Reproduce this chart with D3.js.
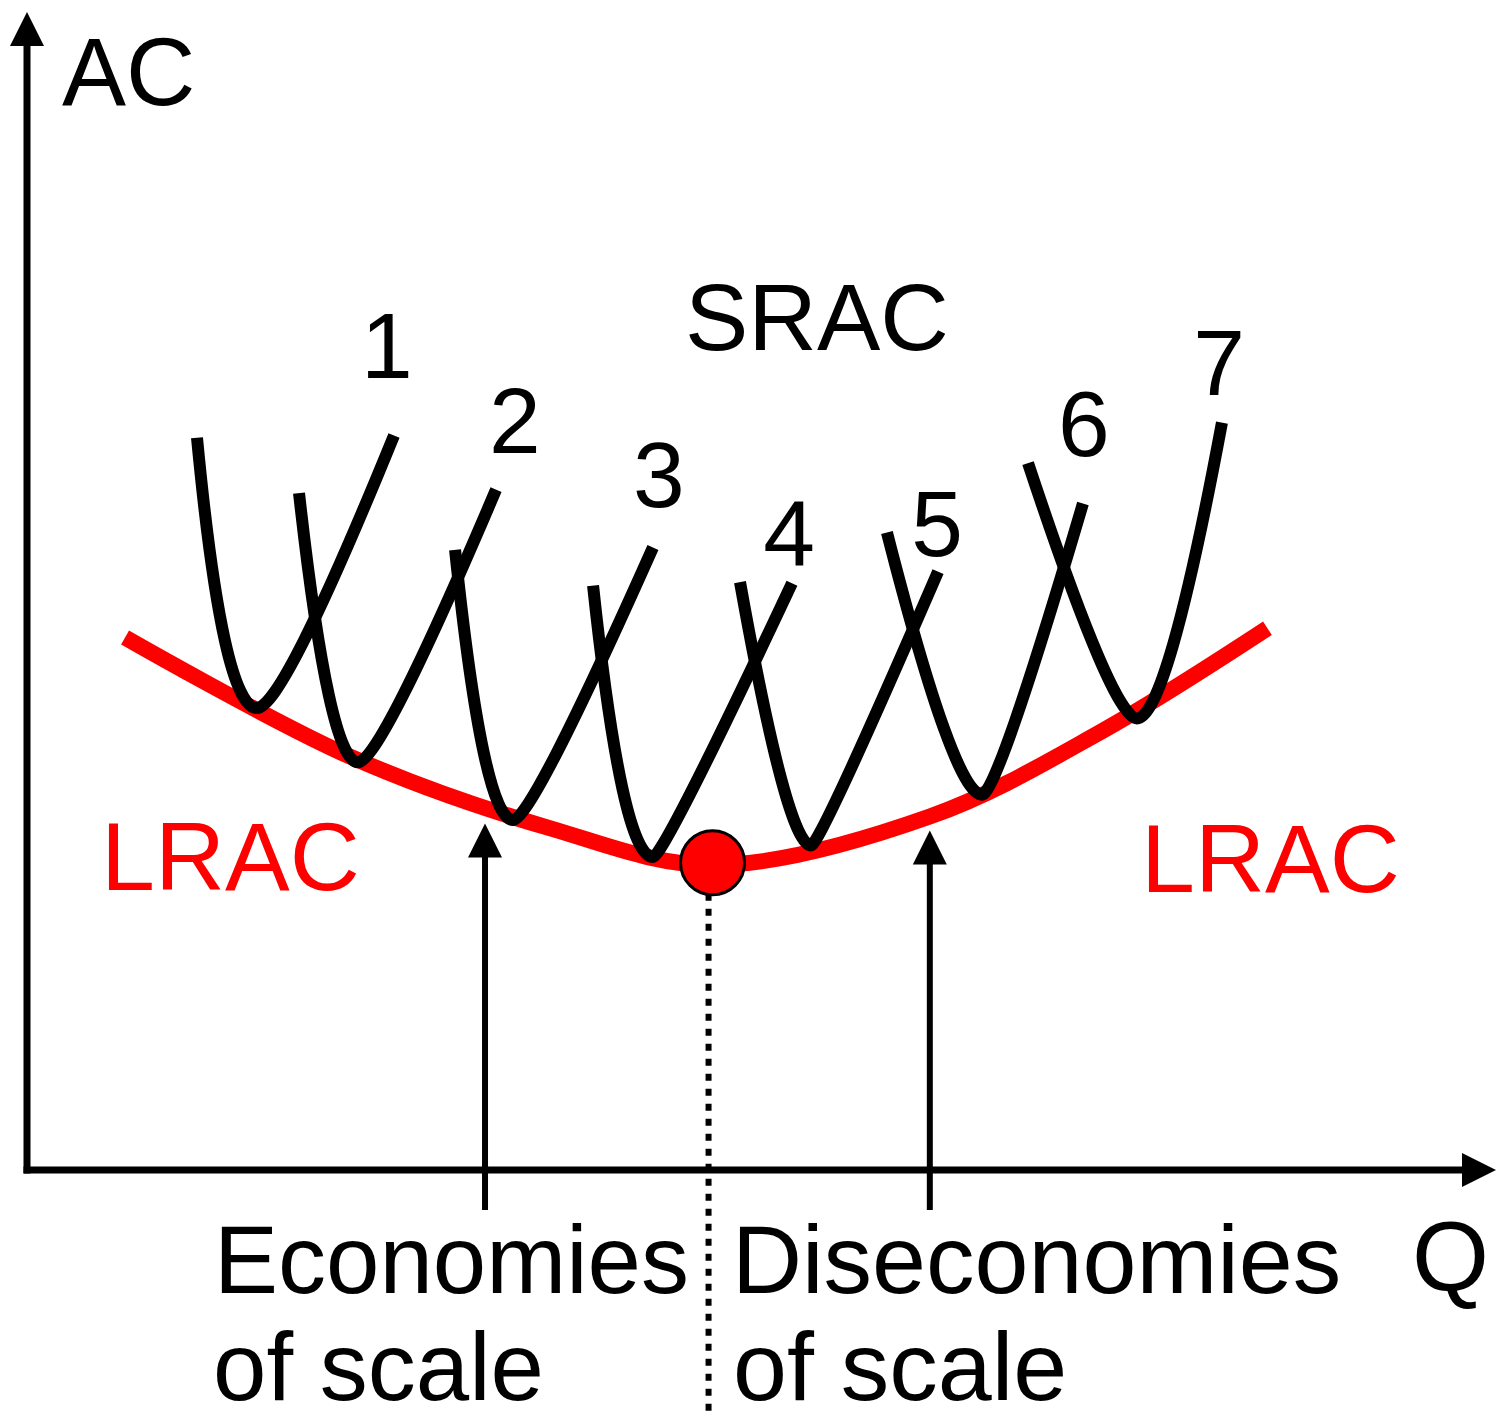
<!DOCTYPE html>
<html>
<head>
<meta charset="utf-8">
<script src="https://cdn.jsdelivr.net/npm/d3@7"></script>
<style>
  html, body { margin: 0; padding: 0; background: #ffffff; }
  svg { display: block; }
  text { font-family: "Liberation Sans", Arial, sans-serif; }
</style>
</head>
<body>
<div id="chart"></div>
<script>
// ---------- DATA (Q and AC in arbitrary units 0..100) ----------
const lracQ  = [6.68, 22.0, 35.6, 46.7, 61.5, 73.1, 84.5];
const lracAC = [46.1, 35.8, 29.6, 26.4, 30.6, 37.9, 46.9];

// each SRAC: [left end, point on left arm, minimum, point on right arm, right end]
const srac1Q  = [11.58, 12.60, 15.67, 19.62, 25.00];
const srac1AC = [63.4, 52.2, 40.0, 47.8, 63.6];
const srac2Q  = [18.53, 19.62, 22.55, 29.50, 31.95];
const srac2AC = [58.6, 47.8, 35.3, 51.7, 58.9];
const srac3Q  = [29.16, 30.65, 33.11, 39.17, 42.64];
const srac3AC = [53.7, 39.2, 30.3, 44.2, 53.9];
const srac4Q  = [38.56, 40.26, 42.64, 49.39, 52.11];
const srac4AC = [50.6, 34.9, 27.1, 43.5, 50.8];
const srac5Q  = [48.57, 51.16, 53.41, 60.35, 62.06];
const srac5AC = [50.9, 34.9, 28.1, 46.8, 51.8];
const srac6Q  = [58.58, 60.35, 65.05, 70.57, 71.93];
const srac6AC = [55.2, 46.8, 32.5, 51.9, 57.7];
const srac7Q  = [68.19, 70.71, 75.61, 79.70, 81.40];
const srac7AC = [61.2, 51.9, 39.1, 53.9, 64.7];

const sracLabels  = ["1", "2", "3", "4", "5", "6", "7"];
const sracLabelQ  = [24.52, 33.24, 43.05, 51.91, 61.99, 72.00, 81.20];
const sracLabelAC = [68.6, 62.1, 57.4, 52.4, 53.2, 61.8, 67.1];

const mesQ = 46.7, mesAC = 26.6;          // minimum efficient scale point
const econArrowQ = [31.2, 61.5];          // economies / diseconomies arrows
const econArrowTipAC = [30.0, 29.4];

// ---------- SETUP ----------
const W = 1505, H = 1412;
const svg = d3.select("#chart").append("svg").attr("width", W).attr("height", H);

const x = d3.scaleLinear().domain([0, 100]).range([27, 1495]);
const y = d3.scaleLinear().domain([0, 100]).range([1170, 15]);

const lracLine = d3.line().x(d => x(d[0])).y(d => y(d[1])).curve(d3.curveCatmullRom.alpha(0.5));
const zip = (a, b) => a.map((v, i) => [v, b[i]]);

// A U-shaped SRAC: each arm is a quadratic curve from its end to the minimum
// (horizontal tangent at the minimum) passing through the read arm point.
function sracPath(qs, acs) {
  const P = qs.map((q, i) => [x(q), y(acs[i])]);
  const M = P[2];
  const ctrlX = (T, A) => {
    const s = Math.sqrt((M[1] - A[1]) / (M[1] - T[1]));   // (1 - t)
    const t = 1 - s;
    return (A[0] - s * s * T[0] - t * t * M[0]) / (2 * t * s);
  };
  const p = d3.path();
  const L = P[0], LA = P[1], RA = P[3], R = P[4];
  p.moveTo(L[0], L[1]);
  p.quadraticCurveTo(ctrlX(L, LA), M[1], M[0], M[1]);
  p.quadraticCurveTo(ctrlX(R, RA), M[1], R[0], R[1]);
  return p.toString();
}

// ---------- AXES ----------
const x0 = x(0), y0 = y(0);
svg.append("line").attr("x1", x0).attr("x2", x0).attr("y1", y0 + 3.5).attr("y2", 40)
  .attr("stroke", "#000").attr("stroke-width", 7);
svg.append("path").attr("d", `M${x0},12 L${x0 - 17},46 L${x0 + 17},46 Z`).attr("fill", "#000");
svg.append("line").attr("x1", x0 - 3.5).attr("x2", 1466).attr("y1", y0).attr("y2", y0)
  .attr("stroke", "#000").attr("stroke-width", 7);
svg.append("path").attr("d", `M1496,${y0} L1462,${y0 - 17} L1462,${y0 + 17} Z`).attr("fill", "#000");

// ---------- DOTTED LINE ----------
svg.append("line")
  .attr("x1", x(mesQ) - 4).attr("x2", x(mesQ) - 4)
  .attr("y1", y(mesAC) + 31).attr("y2", H)
  .attr("stroke", "#000").attr("stroke-width", 6).attr("stroke-dasharray", "7 8");

// ---------- ECONOMIES ARROWS ----------
econArrowQ.forEach((q, i) => {
  const ax = x(q), tip = y(econArrowTipAC[i]);
  svg.append("line").attr("x1", ax).attr("x2", ax).attr("y1", 1210).attr("y2", tip + 30)
    .attr("stroke", "#000").attr("stroke-width", 6);
  svg.append("path").attr("d", `M${ax},${tip} L${ax - 17},${tip + 34} L${ax + 17},${tip + 34} Z`).attr("fill", "#000");
});

// ---------- LRAC ----------
svg.append("path").attr("d", lracLine(zip(lracQ, lracAC)))
  .attr("fill", "none").attr("stroke", "#ff0000").attr("stroke-width", 16);

// ---------- SRAC ----------
const sracs = [
  [srac1Q, srac1AC], [srac2Q, srac2AC], [srac3Q, srac3AC], [srac4Q, srac4AC],
  [srac5Q, srac5AC], [srac6Q, srac6AC], [srac7Q, srac7AC]
];
svg.append("g").selectAll("path").data(sracs).join("path")
  .attr("d", d => sracPath(d[0], d[1]))
  .attr("fill", "none").attr("stroke", "#000").attr("stroke-width", 12)
  .attr("stroke-linecap", "butt").attr("stroke-linejoin", "round");

// ---------- DOT ----------
svg.append("circle").attr("cx", x(mesQ)).attr("cy", y(mesAC)).attr("r", 32)
  .attr("fill", "#ff0000").attr("stroke", "#000").attr("stroke-width", 3);

// ---------- LABELS ----------
svg.append("g").selectAll("text").data(sracLabels).join("text")
  .attr("x", (d, i) => x(sracLabelQ[i])).attr("y", (d, i) => y(sracLabelAC[i]))
  .attr("text-anchor", "middle").attr("font-size", 93).attr("fill", "#000").text(d => d);

const txt = (s, tx, ty, size, fill) =>
  svg.append("text").attr("x", tx).attr("y", ty).attr("font-size", size).attr("fill", fill || "#000").text(s);

txt("AC", 62, 105, 96);
txt("SRAC", 685, 350, 95);
txt("LRAC", 101, 890, 97, "#ff0000");
txt("LRAC", 1141, 892, 97, "#ff0000");
txt("Economies", 214, 1293, 96);
txt("of scale", 213, 1400, 96);
txt("Diseconomies", 732, 1293, 97);
txt("of scale", 733, 1400, 97);
txt("Q", 1412, 1290, 99);
</script>
</body>
</html>
